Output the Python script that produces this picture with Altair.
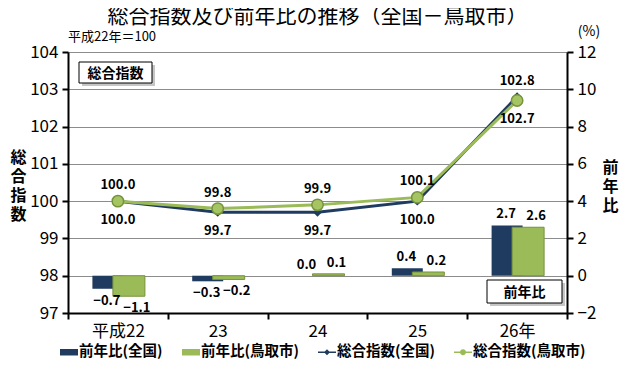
import altair as alt
import pandas as pd

# ---- data -------------------------------------------------------------
years = ["平成22", "23", "24", "25", "26年"]
index_national = [100.0, 99.7, 99.7, 100.0, 102.8]
index_tottori = [100.0, 99.8, 99.9, 100.1, 102.7]
yoy_national = [-0.7, -0.3, 0.0, 0.4, 2.7]
yoy_tottori = [-1.1, -0.2, 0.1, 0.2, 2.6]
series_names = ["前年比(全国)", "前年比(鳥取市)", "総合指数(全国)", "総合指数(鳥取市)"]
left_ticks = [97, 98, 99, 100, 101, 102, 103, 104]
right_ticks = [-2, 0, 2, 4, 6, 8, 10, 12]

# ---- styles -----------------------------------------------------------
NAVY = "#1f3b60"
GREEN = "#9bbb59"
GREEN_DARK = "#76923c"
FONT_JP = "Noto Sans CJK JP"
FONT_NUM = "Liberation Sans Narrow, Noto Sans CJK JP"

idx_df = pd.DataFrame({
    "year": years * 2,
    "series": [series_names[2]] * 5 + [series_names[3]] * 5,
    "region": ["nat"] * 5 + ["tot"] * 5,
    "value": index_national + index_tottori,
})
nat_up = [n > t for n, t in zip(index_national, index_tottori)]
idx_df["above"] = nat_up + [not u for u in nat_up]

yoy_df = pd.DataFrame({
    "year": years * 2,
    "series": [series_names[0]] * 5 + [series_names[1]] * 5,
    "region": ["nat"] * 5 + ["tot"] * 5,
    "value": yoy_national + yoy_tottori,
})

x_enc = alt.X(
    "year:N", sort=years,
    scale=alt.Scale(domain=years, paddingInner=0, paddingOuter=0),
    axis=alt.Axis(title=None, labelAngle=0, tickBand="extent", domainColor="black",
                  domainWidth=2, tickColor="black", tickWidth=2, tickSize=6,
                  labelFont=FONT_NUM, labelFontSize=17, labelColor="black", labelPadding=4),
)

y_right = alt.Y(
    "value:Q",
    scale=alt.Scale(domain=[-2, 12], nice=False),
    axis=alt.Axis(orient="right", values=right_ticks, grid=False, domainColor="black",
                  domainWidth=2, tickColor="black", tickWidth=2, tickSize=6,
                  labelFont=FONT_NUM, labelFontSize=17, labelColor="black", labelPadding=4,
                  title=["前", "年", "比"], titleAngle=0, titleX=43, titleY=107,
                  titleBaseline="top", titleAlign="center", titleFont=FONT_JP,
                  titleFontSize=16, titleFontWeight="bold", titleLineHeight=19,
                  titleColor="black"),
)

y_left = alt.Y(
    "value:Q",
    scale=alt.Scale(domain=[97, 104], nice=False, zero=False),
    axis=alt.Axis(orient="left", values=left_ticks, grid=True, gridColor="#8c8c8c",
                  gridWidth=1, domainColor="black", domainWidth=2, tickColor="black",
                  tickWidth=2, tickSize=6, labelFont=FONT_NUM, labelFontSize=17,
                  labelColor="black", labelPadding=4,
                  title=["総", "合", "指", "数"], titleAngle=0, titleX=-50, titleY=97,
                  titleBaseline="top", titleAlign="center", titleFont=FONT_JP,
                  titleFontSize=16, titleFontWeight="bold", titleLineHeight=19,
                  titleColor="black"),
)

# ---- bars (right axis) ------------------------------------------------
bars_nat = alt.Chart(yoy_df).transform_filter("datum.region == 'nat'").mark_bar(
    width=31, xOffset=-10, color=NAVY).encode(x=x_enc, y=y_right, y2=alt.datum(0))
bars_tot = alt.Chart(yoy_df).transform_filter("datum.region == 'tot'").mark_bar(
    width=32, xOffset=11, color=GREEN, stroke=GREEN_DARK, strokeWidth=1).encode(
    x=x_enc, y=y_right, y2=alt.datum(0))


def bar_labels(region, positive, xoff):
    cond = f"datum.region == '{region}' && datum.value {'>=' if positive else '<'} 0"
    return alt.Chart(yoy_df).transform_filter(cond).mark_text(
        xOffset=xoff, dy=-11 if positive else 12, font=FONT_JP, fontSize=13,
        fontWeight="bold", color="black").encode(
        x=x_enc, y=y_right, text=alt.Text("value:Q", format=".1f"))


bar_layer = alt.layer(
    bars_nat, bars_tot,
    bar_labels("nat", True, -11), bar_labels("nat", False, -11),
    bar_labels("tot", True, 19), bar_labels("tot", False, 19),
)

# ---- lines (left axis) ------------------------------------------------
line_nat = alt.Chart(idx_df).transform_filter("datum.region == 'nat'").mark_line(
    color=NAVY, strokeWidth=3).encode(x=x_enc, y=y_left)
pts_nat = alt.Chart(idx_df).transform_filter("datum.region == 'nat'").mark_point(
    shape="diamond", filled=True, size=80, color=NAVY, opacity=1).encode(x=x_enc, y=y_left)
line_tot = alt.Chart(idx_df).transform_filter("datum.region == 'tot'").mark_line(
    color=GREEN, strokeWidth=3).encode(x=x_enc, y=y_left)
pts_tot = alt.Chart(idx_df).transform_filter("datum.region == 'tot'").mark_point(
    shape="circle", filled=True, size=130, fill="#a5c462", stroke=GREEN_DARK,
    strokeWidth=1.5, opacity=1).encode(x=x_enc, y=y_left)

lab_above = alt.Chart(idx_df).transform_filter("datum.above").mark_text(
    dy=-16, font=FONT_JP, fontSize=13, fontWeight="bold", color="black").encode(
    x=x_enc, y=y_left, text=alt.Text("value:Q", format=".1f"))
lab_below = alt.Chart(idx_df).transform_filter("!datum.above").mark_text(
    dy=19, font=FONT_JP, fontSize=13, fontWeight="bold", color="black").encode(
    x=x_enc, y=y_left, text=alt.Text("value:Q", format=".1f"))

LINE = "M-1,-0.09H1V0.09H-1Z"
shape_paths = [
    "M-1,-0.36H1V0.36H-1Z",
    "M-1,-0.36H1V0.36H-1Z",
    LINE + " M0,-0.33L0.33,0L0,0.33L-0.33,0Z",
    LINE + " M0.33,0A0.33,0.33,0,1,1,-0.33,0A0.33,0.33,0,1,1,0.33,0Z",
]
legend_params = dict(
    orient="none", legendX=-8, legendY=291, direction="horizontal", columns=4,
    title=None, labelFont=FONT_JP, labelFontSize=14.5, labelFontWeight="bold",
    labelColor="black", symbolSize=324, symbolStrokeWidth=0, columnPadding=19,
    labelOffset=1,
)
legend_layer = alt.Chart(idx_df).transform_filter("false").mark_point(
    filled=True, opacity=1).encode(
    color=alt.Color("series:N", scale=alt.Scale(domain=series_names,
                    range=[NAVY, GREEN, NAVY, GREEN]), legend=alt.Legend(**legend_params)),
    shape=alt.Shape("series:N", scale=alt.Scale(domain=series_names, range=shape_paths),
                    legend=alt.Legend(**legend_params)),
)

line_layer = alt.layer(line_nat, pts_nat, line_tot, pts_tot, lab_above, lab_below,
                       legend_layer)

# ---- annotations --------------------------------------------------------
def box(text, x1, x2, y1, y2):
    d = alt.Data(values=[{"t": text}])
    shadow = alt.Chart(d).mark_rect(fill="#a0a0a0", opacity=0.6).encode(
        x=alt.value(x1 + 3), x2=alt.value(x2 + 3), y=alt.value(y1 + 3), y2=alt.value(y2 + 3))
    rect = alt.Chart(d).mark_rect(fill="white", stroke="black", strokeWidth=1).encode(
        x=alt.value(x1), x2=alt.value(x2), y=alt.value(y1), y2=alt.value(y2))
    txt = alt.Chart(d).mark_text(font=FONT_JP, fontSize=14, fontWeight="bold",
                                 color="black").encode(
        x=alt.value((x1 + x2) / 2), y=alt.value((y1 + y2) / 2 + 1), text="t:N")
    return alt.layer(shadow, rect, txt)


def note(text, x, y, align, size=13):
    return alt.Chart(alt.Data(values=[{"t": text}])).mark_text(
        font=FONT_JP, fontSize=size, align=align, color="black").encode(
        x=alt.value(x), y=alt.value(y), text="t:N")


annotations = alt.layer(
    box("総合指数", 11, 84, 10, 31),
    box("前年比", 419, 494, 228, 251),
    note("平成22年＝100", 0, -15, "left"),
    note("(%)", 521, -20, "center", 14),
)

chart = alt.layer(bar_layer, line_layer, annotations).resolve_scale(
    y="independent"
).properties(
    width=499, height=261,
    title=alt.TitleParams("総合指数及び前年比の推移（全国－鳥取市）", font=FONT_JP,
                          fontSize=21, fontWeight="normal", anchor="middle",
                          color="black", offset=8, dy=10),
    autosize="none",
    padding={"left": 60, "top": 44, "right": 55, "bottom": 49},
).configure_view(
    fill="#efefef", stroke="black", strokeWidth=2
).configure(background="white")

chart.save("out.html", embed_options={"renderer": "svg", "actions": False})
